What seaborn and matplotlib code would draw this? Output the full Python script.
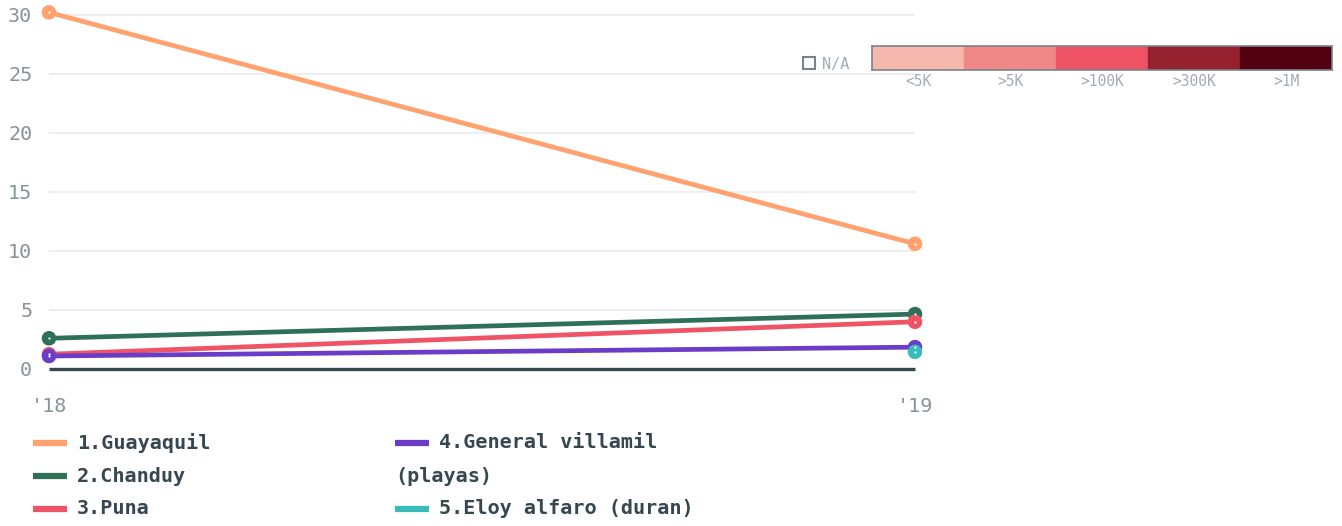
import numpy as np
import pandas as pd
import matplotlib.pyplot as plt
import seaborn as sns
from matplotlib.patches import Rectangle
from matplotlib.lines import Line2D

# data
years = ["'18", "'19"]
guayaquil = [30.2, 10.6]
chanduy = [2.6, 4.65]
puna = [1.25, 4.0]
villamil = [1.1, 1.85]
eloy = [np.nan, 1.45]

names = ["1.Guayaquil", "2.Chanduy", "3.Puna", "4.General villamil (playas)", "5.Eloy alfaro (duran)"]
colors = ["#ffa270", "#2e7158", "#ef5366", "#6a3cc8", "#3bbcbc"]

scale_labels = ["<5K", ">5K", ">100K", ">300K", ">1M"]
scale_colors = ["#f5b7ae", "#f08888", "#ef5366", "#95212f", "#530010"]

rows = []
for name, vals in zip(names, [guayaquil, chanduy, puna, villamil, eloy]):
    for i, v in enumerate(vals):
        rows.append({"series": name, "x": i, "value": v})
df = pd.DataFrame(rows)
pal = dict(zip(names, colors))

sns.set_style("white")
plt.rcParams['font.family'] = ['DejaVu Sans Mono']

fig = plt.figure(figsize=(13.42, 5.26), dpi=100)
ax = fig.add_axes([49 / 1342, (526 - 369) / 526, 866 / 1342, 359 / 526])

# gridlines
for g in [5, 10, 15, 20, 25, 30]:
    ax.axhline(g, color="#ebebeb", lw=1.2, zorder=0)
ax.axhline(0, color="#37474f", lw=2.4, zorder=1, solid_capstyle="butt", clip_on=False)

sns.lineplot(data=df, x="x", y="value", hue="series", palette=pal, hue_order=names,
             lw=3.4, legend=False, ax=ax, zorder=3)
sns.scatterplot(data=df.dropna(), x="x", y="value", hue="series", palette=pal,
                hue_order=names, s=110, linewidth=0, legend=False, ax=ax,
                clip_on=False, zorder=4)
ax.scatter(df["x"], df["value"], s=2.5, color="white", linewidths=0, zorder=5, clip_on=False)

ax.set_xlim(0, 1)
ax.set_ylim(0, 30.4)
ax.set_xticks([0, 1])
ax.set_xticklabels(years)
ax.set_yticks([0, 5, 10, 15, 20, 25, 30])
ax.tick_params(axis="both", length=0, labelsize=14.5, colors="#88949a")
ax.tick_params(axis="x", pad=20)
ax.tick_params(axis="y", pad=12)
ax.set_xlabel("")
ax.set_ylabel("")
for s in ax.spines.values():
    s.set_visible(False)

# legend
def fx(px):
    return px / 1342

def fy(py):
    return 1 - py / 526

legend_pos = [(33, 443), (33, 476), (33, 509), (395, 443), (395, 509)]
legend_txt = ["1.Guayaquil", "2.Chanduy", "3.Puna", "4.General villamil", "5.Eloy alfaro (duran)"]
for (px, py), txt, c in zip(legend_pos, legend_txt, colors):
    fig.add_artist(Line2D([fx(px), fx(px + 34)], [fy(py), fy(py)], color=c, lw=4.5,
                          solid_capstyle="butt", transform=fig.transFigure))
    fig.text(fx(px + 44), fy(py), txt, fontsize=14.5, fontweight="bold", color="#37474f",
             va="center", ha="left")
fig.text(fx(395), fy(476), "(playas)", fontsize=14.5, fontweight="bold", color="#37474f",
         va="center", ha="left")

# color scale
cax = fig.add_axes([fx(872), fy(70), fx(1332) - fx(872), (70 - 46) / 526])
for i, c in enumerate(scale_colors):
    cax.add_patch(Rectangle((i, 0), 1, 1, color=c))
    fig.text(fx(872 + 92 * i + 46), fy(82), scale_labels[i], fontsize=10.5, color="#a3acb0",
             ha="center", va="center")
cax.set_xlim(0, 5)
cax.set_ylim(0, 1)
cax.set_xticks([])
cax.set_yticks([])
for s in cax.spines.values():
    s.set_color("#78848a")
    s.set_linewidth(1.2)

fig.add_artist(Rectangle((fx(803), fy(69)), fx(815) - fx(803), (69 - 57) / 526, fill=False,
                         edgecolor="#78848a", lw=1.5, transform=fig.transFigure))
fig.text(fx(822), fy(64), "N/A", fontsize=11, color="#a3acb0", ha="left", va="center")

fig.savefig("out.png", dpi=100)
